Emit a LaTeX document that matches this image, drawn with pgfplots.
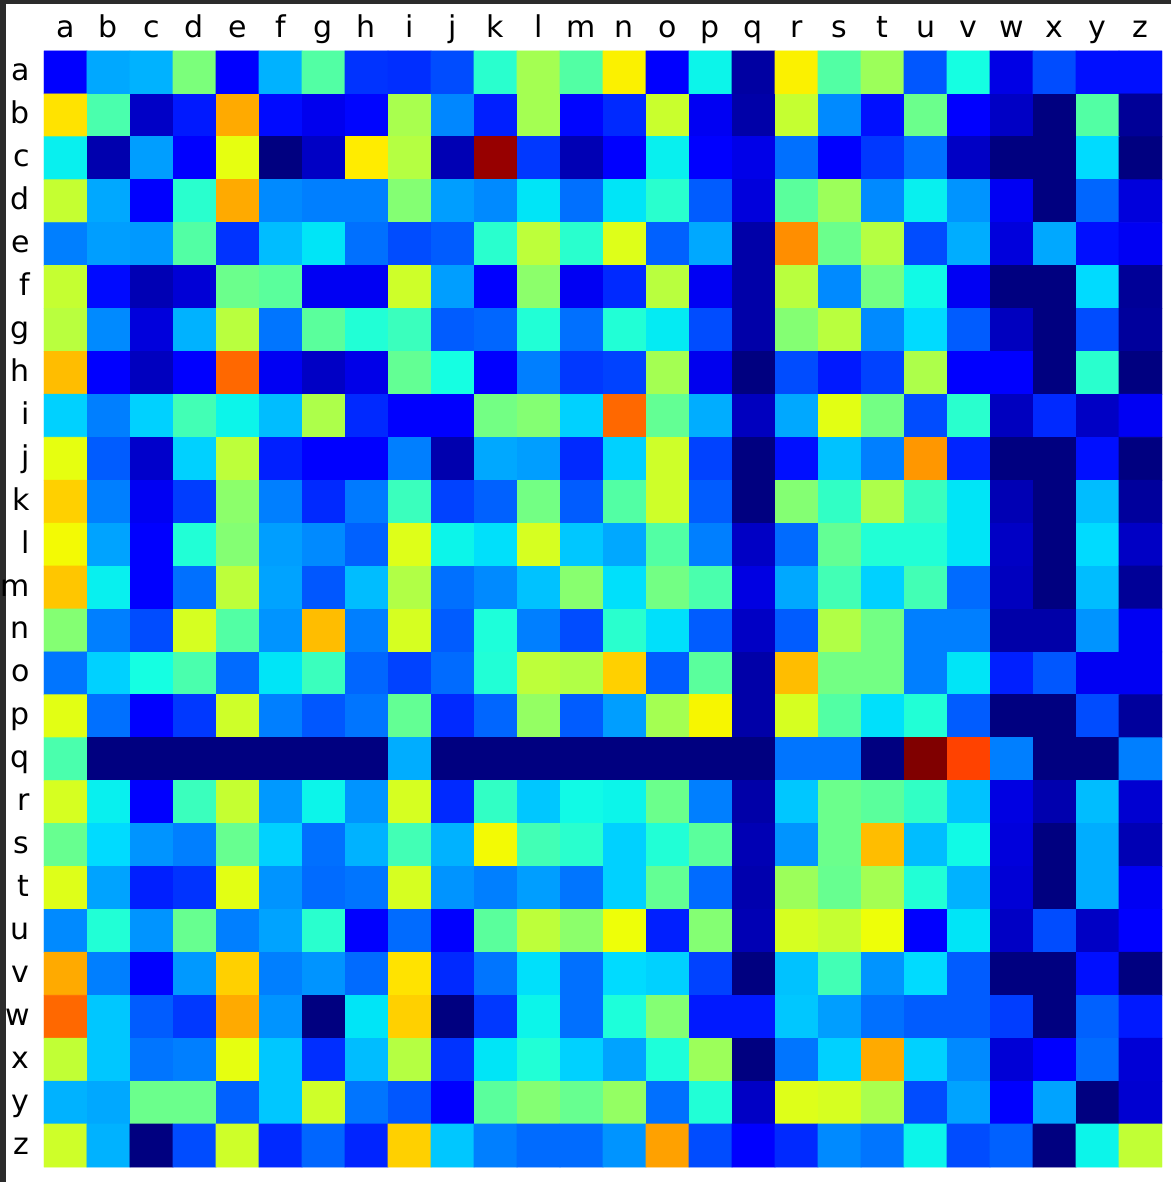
\documentclass[border=0pt]{standalone}
\usepackage{pgfplots}
\pgfplotsset{compat=1.18}
\usepackage{fontspec}
\setmainfont{DejaVu Sans}
\definecolor{frame}{RGB}{43,43,43}
\begin{document}
\begin{tikzpicture}
\useasboundingbox (0,0) rectangle (585.5pt,591pt);
\fill[white] (0,0) rectangle (585.5pt,591pt);
\fill[frame] (0,589pt) rectangle (585.5pt,591pt);
\fill[frame] (0,0) rectangle (3pt,591pt);
\begin{axis}[
  at={(22pt,7.5pt)}, anchor=south west,
  scale only axis, width=559pt, height=558pt,
  xmin=-0.5, xmax=25.5, ymin=-0.5, ymax=25.5,
  enlargelimits=false, y dir=reverse,
  axis line style={draw=none}, tick style={draw=none},
  major tick length=0pt,
  xtick={0,...,25}, ytick={0,...,25},
  xticklabels={a,b,c,d,e,f,g,h,i,j,k,l,m,n,o,p,q,r,s,t,u,v,w,x,y,z},
  yticklabels={a,b,c,d,e,f,g,h,i,j,k,l,m,n,o,p,q,r,s,t,u,v,w,x,y,z},
  xticklabel pos=upper,
  xticklabel style={font=\fontsize{15pt}{18pt}\selectfont, anchor=base, inner sep=0pt, yshift=6.5pt},
  yticklabel style={font=\fontsize{15pt}{18pt}\selectfont, anchor=base east, inner sep=0pt, xshift=-7pt, yshift=-4.25pt},
  colormap={mpljet}{rgb(0pt)=(0,0,0.5) rgb(110pt)=(0,0,1) rgb(125pt)=(0,0,1) rgb(340pt)=(0,0.86,1) rgb(350pt)=(0,0.9,0.968) rgb(375pt)=(0.081,1,0.887) rgb(640pt)=(0.935,1,0.032) rgb(650pt)=(0.968,0.963,0) rgb(660pt)=(1,0.926,0) rgb(890pt)=(1,0.074,0) rgb(910pt)=(0.909,0,0) rgb(1000pt)=(0.5,0,0)},
  point meta min=0, point meta max=1,
]
\addplot[matrix plot*, mesh/cols=26, point meta=explicit]
 table[row sep=\\, x expr={\coordindex-26*floor((\coordindex+0.5)/26)}, y expr={floor((\coordindex+0.5)/26)}, meta=c] {
c\\
0.12\\ 0.29\\ 0.30\\ 0.50\\ 0.12\\ 0.30\\ 0.45\\ 0.175\\ 0.17\\ 0.20\\ 0.40\\ 0.55\\ 0.45\\ 0.655\\ 0.12\\ 0.365\\ 0.03\\ 0.655\\ 0.45\\ 0.54\\ 0.21\\ 0.375\\ 0.088\\ 0.20\\ 0.14\\ 0.14\\
0.67\\ 0.44\\ 0.061\\ 0.15\\ 0.73\\ 0.135\\ 0.095\\ 0.13\\ 0.555\\ 0.257\\ 0.155\\ 0.55\\ 0.13\\ 0.165\\ 0.595\\ 0.10\\ 0.035\\ 0.59\\ 0.26\\ 0.14\\ 0.48\\ 0.12\\ 0.06\\ 0.0\\ 0.45\\ 0.02\\
0.36\\ 0.04\\ 0.28\\ 0.12\\ 0.63\\ 0.0\\ 0.06\\ 0.66\\ 0.57\\ 0.045\\ 0.98\\ 0.18\\ 0.045\\ 0.12\\ 0.36\\ 0.11\\ 0.09\\ 0.235\\ 0.12\\ 0.18\\ 0.235\\ 0.06\\ 0.0\\ 0.0\\ 0.34\\ 0.0\\
0.59\\ 0.29\\ 0.12\\ 0.40\\ 0.73\\ 0.26\\ 0.25\\ 0.25\\ 0.51\\ 0.28\\ 0.26\\ 0.35\\ 0.235\\ 0.35\\ 0.40\\ 0.215\\ 0.08\\ 0.46\\ 0.54\\ 0.26\\ 0.36\\ 0.27\\ 0.10\\ 0.0\\ 0.225\\ 0.08\\
0.25\\ 0.28\\ 0.275\\ 0.45\\ 0.175\\ 0.31\\ 0.35\\ 0.235\\ 0.20\\ 0.215\\ 0.40\\ 0.58\\ 0.40\\ 0.62\\ 0.22\\ 0.29\\ 0.035\\ 0.76\\ 0.48\\ 0.57\\ 0.20\\ 0.295\\ 0.08\\ 0.29\\ 0.14\\ 0.10\\
0.59\\ 0.135\\ 0.045\\ 0.075\\ 0.48\\ 0.46\\ 0.10\\ 0.10\\ 0.60\\ 0.28\\ 0.11\\ 0.52\\ 0.10\\ 0.165\\ 0.575\\ 0.10\\ 0.035\\ 0.575\\ 0.26\\ 0.49\\ 0.37\\ 0.10\\ 0.0\\ 0.0\\ 0.34\\ 0.02\\
0.575\\ 0.26\\ 0.08\\ 0.30\\ 0.575\\ 0.24\\ 0.46\\ 0.39\\ 0.42\\ 0.215\\ 0.225\\ 0.39\\ 0.235\\ 0.39\\ 0.355\\ 0.20\\ 0.035\\ 0.51\\ 0.575\\ 0.26\\ 0.34\\ 0.215\\ 0.055\\ 0.0\\ 0.20\\ 0.025\\
0.71\\ 0.11\\ 0.055\\ 0.11\\ 0.80\\ 0.10\\ 0.06\\ 0.09\\ 0.47\\ 0.375\\ 0.11\\ 0.25\\ 0.18\\ 0.19\\ 0.55\\ 0.095\\ 0.0\\ 0.20\\ 0.15\\ 0.19\\ 0.56\\ 0.11\\ 0.11\\ 0.0\\ 0.40\\ 0.0\\
0.33\\ 0.25\\ 0.33\\ 0.43\\ 0.365\\ 0.31\\ 0.56\\ 0.165\\ 0.11\\ 0.11\\ 0.49\\ 0.51\\ 0.33\\ 0.80\\ 0.47\\ 0.295\\ 0.055\\ 0.29\\ 0.625\\ 0.49\\ 0.20\\ 0.40\\ 0.055\\ 0.165\\ 0.06\\ 0.10\\
0.63\\ 0.215\\ 0.065\\ 0.33\\ 0.58\\ 0.155\\ 0.11\\ 0.11\\ 0.25\\ 0.04\\ 0.29\\ 0.28\\ 0.165\\ 0.33\\ 0.60\\ 0.19\\ 0.0\\ 0.14\\ 0.315\\ 0.25\\ 0.75\\ 0.16\\ 0.0\\ 0.0\\ 0.14\\ 0.0\\
0.69\\ 0.25\\ 0.10\\ 0.185\\ 0.52\\ 0.25\\ 0.165\\ 0.245\\ 0.42\\ 0.19\\ 0.22\\ 0.49\\ 0.215\\ 0.45\\ 0.60\\ 0.215\\ 0.0\\ 0.51\\ 0.41\\ 0.56\\ 0.42\\ 0.35\\ 0.045\\ 0.0\\ 0.31\\ 0.025\\
0.645\\ 0.285\\ 0.11\\ 0.39\\ 0.51\\ 0.28\\ 0.26\\ 0.22\\ 0.62\\ 0.365\\ 0.345\\ 0.61\\ 0.32\\ 0.29\\ 0.45\\ 0.25\\ 0.06\\ 0.23\\ 0.47\\ 0.39\\ 0.39\\ 0.35\\ 0.06\\ 0.0\\ 0.34\\ 0.06\\
0.70\\ 0.36\\ 0.11\\ 0.235\\ 0.58\\ 0.285\\ 0.21\\ 0.31\\ 0.565\\ 0.235\\ 0.26\\ 0.315\\ 0.515\\ 0.345\\ 0.49\\ 0.44\\ 0.085\\ 0.29\\ 0.43\\ 0.33\\ 0.43\\ 0.23\\ 0.055\\ 0.0\\ 0.31\\ 0.02\\
0.51\\ 0.25\\ 0.20\\ 0.61\\ 0.45\\ 0.27\\ 0.71\\ 0.25\\ 0.61\\ 0.215\\ 0.385\\ 0.25\\ 0.20\\ 0.40\\ 0.345\\ 0.215\\ 0.06\\ 0.215\\ 0.565\\ 0.49\\ 0.25\\ 0.25\\ 0.035\\ 0.035\\ 0.27\\ 0.10\\
0.24\\ 0.33\\ 0.375\\ 0.44\\ 0.23\\ 0.35\\ 0.42\\ 0.225\\ 0.19\\ 0.23\\ 0.39\\ 0.58\\ 0.565\\ 0.69\\ 0.215\\ 0.46\\ 0.035\\ 0.71\\ 0.49\\ 0.49\\ 0.25\\ 0.35\\ 0.155\\ 0.21\\ 0.10\\ 0.10\\
0.625\\ 0.235\\ 0.12\\ 0.18\\ 0.60\\ 0.25\\ 0.21\\ 0.24\\ 0.47\\ 0.165\\ 0.225\\ 0.53\\ 0.215\\ 0.28\\ 0.55\\ 0.65\\ 0.035\\ 0.61\\ 0.45\\ 0.345\\ 0.39\\ 0.215\\ 0.0\\ 0.0\\ 0.20\\ 0.025\\
0.44\\ 0.0\\ 0.0\\ 0.0\\ 0.0\\ 0.0\\ 0.0\\ 0.0\\ 0.295\\ 0.0\\ 0.0\\ 0.0\\ 0.0\\ 0.0\\ 0.0\\ 0.0\\ 0.0\\ 0.24\\ 0.24\\ 0.0\\ 1.0\\ 0.84\\ 0.25\\ 0.0\\ 0.0\\ 0.25\\
0.61\\ 0.36\\ 0.115\\ 0.42\\ 0.59\\ 0.275\\ 0.365\\ 0.27\\ 0.61\\ 0.165\\ 0.41\\ 0.32\\ 0.37\\ 0.365\\ 0.48\\ 0.25\\ 0.035\\ 0.32\\ 0.48\\ 0.46\\ 0.41\\ 0.315\\ 0.085\\ 0.04\\ 0.31\\ 0.07\\
0.475\\ 0.34\\ 0.27\\ 0.25\\ 0.475\\ 0.33\\ 0.235\\ 0.30\\ 0.43\\ 0.30\\ 0.645\\ 0.43\\ 0.40\\ 0.33\\ 0.39\\ 0.46\\ 0.045\\ 0.27\\ 0.48\\ 0.71\\ 0.31\\ 0.37\\ 0.08\\ 0.0\\ 0.295\\ 0.045\\
0.62\\ 0.285\\ 0.155\\ 0.175\\ 0.625\\ 0.27\\ 0.23\\ 0.24\\ 0.61\\ 0.27\\ 0.25\\ 0.28\\ 0.24\\ 0.33\\ 0.47\\ 0.23\\ 0.04\\ 0.54\\ 0.475\\ 0.55\\ 0.39\\ 0.30\\ 0.075\\ 0.0\\ 0.295\\ 0.10\\
0.26\\ 0.39\\ 0.27\\ 0.475\\ 0.25\\ 0.285\\ 0.40\\ 0.115\\ 0.23\\ 0.11\\ 0.46\\ 0.58\\ 0.52\\ 0.64\\ 0.155\\ 0.51\\ 0.045\\ 0.61\\ 0.59\\ 0.64\\ 0.12\\ 0.35\\ 0.06\\ 0.20\\ 0.06\\ 0.11\\
0.73\\ 0.25\\ 0.11\\ 0.275\\ 0.69\\ 0.25\\ 0.27\\ 0.23\\ 0.67\\ 0.165\\ 0.24\\ 0.345\\ 0.235\\ 0.34\\ 0.33\\ 0.19\\ 0.0\\ 0.315\\ 0.43\\ 0.27\\ 0.34\\ 0.215\\ 0.0\\ 0.0\\ 0.14\\ 0.0\\
0.80\\ 0.32\\ 0.215\\ 0.18\\ 0.73\\ 0.27\\ 0.0\\ 0.35\\ 0.69\\ 0.0\\ 0.18\\ 0.365\\ 0.235\\ 0.385\\ 0.51\\ 0.15\\ 0.15\\ 0.32\\ 0.28\\ 0.235\\ 0.215\\ 0.215\\ 0.185\\ 0.0\\ 0.22\\ 0.15\\
0.585\\ 0.32\\ 0.24\\ 0.25\\ 0.63\\ 0.32\\ 0.17\\ 0.31\\ 0.57\\ 0.175\\ 0.35\\ 0.39\\ 0.33\\ 0.285\\ 0.385\\ 0.54\\ 0.0\\ 0.24\\ 0.33\\ 0.73\\ 0.33\\ 0.26\\ 0.075\\ 0.115\\ 0.23\\ 0.075\\
0.30\\ 0.29\\ 0.48\\ 0.48\\ 0.22\\ 0.32\\ 0.60\\ 0.24\\ 0.21\\ 0.115\\ 0.46\\ 0.51\\ 0.475\\ 0.53\\ 0.235\\ 0.39\\ 0.06\\ 0.62\\ 0.61\\ 0.555\\ 0.20\\ 0.285\\ 0.11\\ 0.285\\ 0.0\\ 0.07\\
0.60\\ 0.30\\ 0.0\\ 0.20\\ 0.60\\ 0.165\\ 0.225\\ 0.16\\ 0.69\\ 0.32\\ 0.25\\ 0.23\\ 0.23\\ 0.27\\ 0.74\\ 0.20\\ 0.115\\ 0.165\\ 0.26\\ 0.24\\ 0.365\\ 0.20\\ 0.22\\ 0.0\\ 0.365\\ 0.585\\
};
\end{axis}
\end{tikzpicture}
\end{document}
